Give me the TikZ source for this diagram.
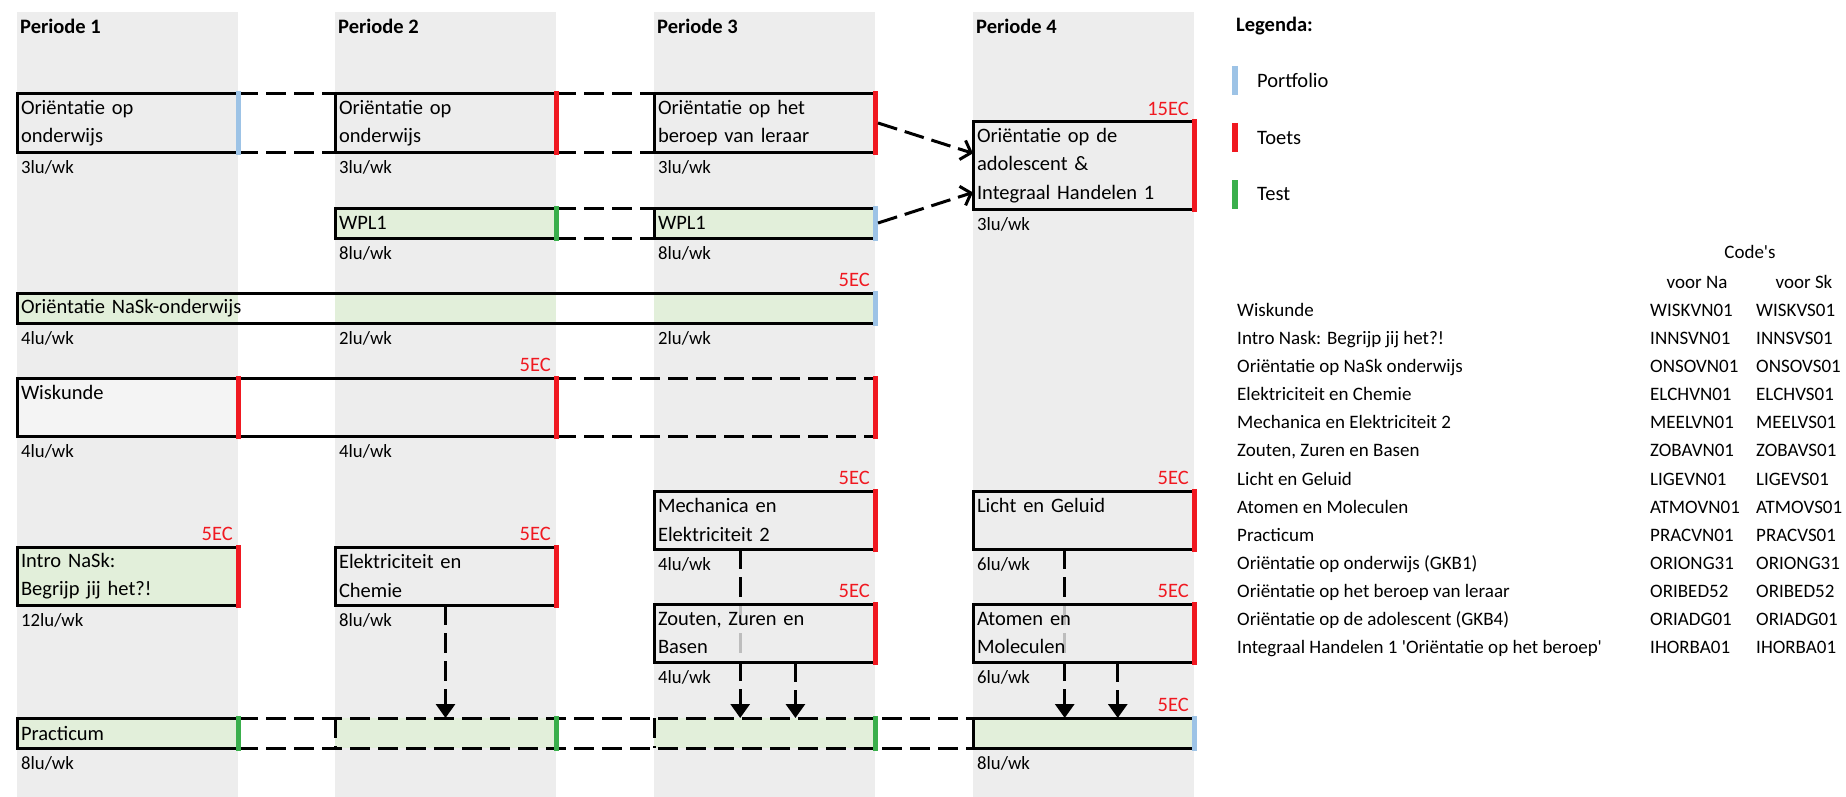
\documentclass[tikz,border=0pt]{standalone}
\usepackage{fontspec}
\setmainfont{Carlito}
\usetikzlibrary{calc,arrows.meta}
\definecolor{bandgrey}{HTML}{EDEDED}
\definecolor{cellgreen}{HTML}{E2EFDA}
\definecolor{cellgrey}{HTML}{F4F4F4}
\definecolor{toetsred}{HTML}{F01820}
\definecolor{portblue}{HTML}{9DC3E6}
\definecolor{testgreen}{HTML}{3AAF4C}
\newcommand{\sheetfont}{\fontsize{20.5}{28.5}\selectfont}
\newcommand{\lufont}{\fontsize{18.7}{22}\selectfont}
\newcommand{\tabfont}{\fontsize{19}{23}\selectfont}
\begin{document}
\begin{tikzpicture}[x=1pt,y=-1pt,font=\sheetfont,
  box/.style={draw,line width=3pt,outer sep=0pt,inner sep=4pt,anchor=north west,
    minimum width=221pt,text width=213pt,align=left,minimum height=58pt},
  low/.style={minimum height=30pt},
  cell/.style={outer sep=0pt,inner sep=0pt,anchor=north west,minimum width=221pt,minimum height=30pt},
  head/.style={anchor=west,inner sep=0pt,font=\sheetfont\bfseries},
  lu/.style={anchor=west,inner sep=0pt,font=\lufont},
  ec/.style={anchor=east,inner sep=0pt,text=toetsred},
  tab/.style={anchor=base west,inner sep=0pt,font=\tabfont},
  toets/.style={draw=toetsred,line width=5pt,line cap=rect},
  portfolio/.style={draw=portblue,line width=5pt,line cap=rect},
  test/.style={draw=testgreen,line width=5pt,line cap=rect},
  link/.style={line width=3pt,dash pattern=on 20pt off 8pt},
  flow/.style={link,-{Triangle[length=14pt,width=19pt]}},
  toward/.style={link,-{Straight Barb[length=9pt,width=20pt]}}]
\useasboundingbox (0,0) rectangle (1846,797);
\fill[bandgrey] (17,12) rectangle +(221,785);
\fill[bandgrey] (335,12) rectangle +(221,785);
\fill[bandgrey] (654,12) rectangle +(221,785);
\fill[bandgrey] (973,12) rectangle +(221,785);
\node[head] (per1) at (20,26) {Periode 1};
\node[head] (per2) at (338,26) {Periode 2};
\node[head] (per3) at (657,26) {Periode 3};
\node[head] (per4) at (976,26) {Periode 4};

\node[box] (ori1) at (17,94) {Oriëntatie op\\onderwijs};
\node[box] (ori2) at (335,94) {Oriëntatie op\\onderwijs};
\node[box] (ori3) at (654,94) {Oriëntatie op het\\beroep van leraar};
\node[box,minimum height=87pt] (adol) at (973,122) {Oriëntatie op de\\adolescent \&\\Integraal Handelen 1};
\draw[link] (ori1.north east) -- (ori2.north west) (ori1.south east) -- (ori2.south west);
\draw[link] (ori2.north east) -- (ori3.north west) (ori2.south east) -- (ori3.south west);
\draw[portfolio] (ori1.north east) -- (ori1.south east);
\draw[toets] (ori2.north east) -- (ori2.south east);
\draw[toets] (ori3.north east) -- (ori3.south east);
\draw[toets] (adol.north east) -- (adol.south east);
\node[lu] (lu1) at ([shift={(4,15)}]ori1.south west) {3lu/wk};
\node[lu] (lu2) at ([shift={(4,15)}]ori2.south west) {3lu/wk};
\node[lu] (lu3) at ([shift={(4,15)}]ori3.south west) {3lu/wk};
\node[lu] (lu4) at ([shift={(4,15)}]adol.south west) {3lu/wk};
\node[ec] (ec1) at ([shift={(-5,-13)}]adol.north east) {15EC};

\node[box,low,fill=cellgreen] (wpl2) at (335,208) {WPL1};
\node[box,low,fill=cellgreen] (wpl3) at (654,208) {WPL1};
\draw[link] (wpl2.north east) -- (wpl3.north west) (wpl2.south east) -- (wpl3.south west);
\draw[test] (wpl2.north east) -- (wpl2.south east);
\draw[portfolio] (wpl3.north east) -- (wpl3.south east);
\node[lu] (lu5) at ([shift={(4,15)}]wpl2.south west) {8lu/wk};
\node[lu] (lu6) at ([shift={(4,15)}]wpl3.south west) {8lu/wk};
\draw[toward] ([xshift=3pt]ori3.east) -- ($(adol.north west)!0.36!(adol.south west)$);
\draw[toward] ([xshift=3pt]wpl3.east) -- ($(adol.north west)!0.81!(adol.south west)$);

\node[cell,fill=cellgreen] (nask1) at (17,293) {};
\node[cell,fill=cellgreen] (nask2) at (335,293) {};
\node[cell,fill=cellgreen] (nask3) at (654,293) {};
\node[box,low,minimum width=858pt,text width=850pt] (nask) at (17,293) {Oriëntatie NaSk-onderwijs};
\draw[portfolio] (nask.north east) -- (nask.south east);
\node[lu] (lu7) at ([shift={(4,15)}]nask1.south west) {4lu/wk};
\node[lu] (lu8) at ([shift={(4,15)}]nask2.south west) {2lu/wk};
\node[lu] (lu9) at ([shift={(4,15)}]nask3.south west) {2lu/wk};
\node[ec] (ec2) at ([shift={(-5,-13)}]nask.north east) {5EC};

\node[cell,minimum height=58pt,fill=cellgrey] (wisk1) at (17,378) {};
\node[cell,minimum height=58pt] (wisk2) at (335,378) {};
\node[cell,minimum height=58pt] (wisk3) at (654,378) {};
\node[box,minimum width=539pt,text width=531pt] (wisk) at (17,378) {Wiskunde\\\mbox{}};
\draw[link] (wisk.north east) -- (wisk3.north east) (wisk.south east) -- (wisk3.south east);
\draw[toets] (wisk1.north east) -- (wisk1.south east);
\draw[toets] (wisk.north east) -- (wisk.south east);
\draw[toets] (wisk3.north east) -- (wisk3.south east);
\node[lu] (lu10) at ([shift={(4,15)}]wisk1.south west) {4lu/wk};
\node[lu] (lu11) at ([shift={(4,15)}]wisk2.south west) {4lu/wk};
\node[ec] (ec3) at ([shift={(-5,-13)}]wisk.north east) {5EC};

\node[box] (mech) at (654,491) {Mechanica en\\Elektriciteit 2};
\node[box] (licht) at (973,491) {Licht en Geluid\\\mbox{}};
\node[box,fill=cellgreen] (intro) at (17,547) {Intro NaSk:\\Begrijp jij het?!};
\node[box] (elek) at (335,547) {Elektriciteit en\\Chemie};
\draw[toets] (mech.north east) -- (mech.south east);
\draw[toets] (licht.north east) -- (licht.south east);
\draw[toets] (intro.north east) -- (intro.south east);
\draw[toets] (elek.north east) -- (elek.south east);
\node[lu] (lu12) at ([shift={(4,15)}]mech.south west) {4lu/wk};
\node[lu] (lu13) at ([shift={(4,15)}]licht.south west) {6lu/wk};
\node[lu] (lu14) at ([shift={(4,15)}]intro.south west) {12lu/wk};
\node[lu] (lu15) at ([shift={(4,15)}]elek.south west) {8lu/wk};
\node[ec] (ec4) at ([shift={(-5,-13)}]mech.north east) {5EC};
\node[ec] (ec5) at ([shift={(-5,-13)}]licht.north east) {5EC};
\node[ec] (ec6) at ([shift={(-5,-13)}]intro.north east) {5EC};
\node[ec] (ec7) at ([shift={(-5,-13)}]elek.north east) {5EC};

\node[box,low,fill=cellgreen] (prac1) at (17,718) {Practicum};
\node[cell,fill=cellgreen] (prac2) at (335,718) {};
\node[cell,fill=cellgreen] (prac3) at (654,718) {};
\node[box,low,fill=cellgreen] (prac4) at (973,718) {};
\draw[link] (prac1.north east) -- (prac4.north west) (prac1.south east) -- (prac4.south west);
\draw[link] (prac2.north west) -- (prac2.south west) (prac3.north west) -- (prac3.south west);
\draw[test] (prac1.north east) -- (prac1.south east);
\draw[test] (prac2.north east) -- (prac2.south east);
\draw[test] (prac3.north east) -- (prac3.south east);
\draw[portfolio] (prac4.north east) -- (prac4.south east);
\node[lu] (lu16) at ([shift={(4,15)}]prac1.south west) {8lu/wk};
\node[lu] (lu17) at ([shift={(4,15)}]prac4.south west) {8lu/wk};
\node[ec] (ec8) at ([shift={(-5,-13)}]prac4.north east) {5EC};

\coordinate (m1) at ($(mech.south west)!0.39!(mech.south east)$);
\coordinate (l1) at ($(licht.south west)!0.415!(licht.south east)$);
\draw[flow] (elek.south) -- (prac2.north);
\draw[flow] (m1) -- (m1 |- prac3.north);
\draw[flow] (l1) -- (l1 |- prac4.north);

\node[box,fill=bandgrey,fill opacity=0.8,text opacity=1] (zout) at (654,604) {Zouten, Zuren en\\Basen};
\node[box,fill=bandgrey,fill opacity=0.8,text opacity=1] (atom) at (973,604) {Atomen en\\Moleculen};
\draw[toets] (zout.north east) -- (zout.south east);
\draw[toets] (atom.north east) -- (atom.south east);
\node[lu] (lu18) at ([shift={(4,15)}]zout.south west) {4lu/wk};
\node[lu] (lu19) at ([shift={(4,15)}]atom.south west) {6lu/wk};
\node[ec] (ec9) at ([shift={(-5,-13)}]zout.north east) {5EC};
\node[ec] (ec10) at ([shift={(-5,-13)}]atom.north east) {5EC};
\coordinate (z1) at ($(zout.south west)!0.64!(zout.south east)$);
\coordinate (a1) at ($(atom.south west)!0.655!(atom.south east)$);
\draw[flow] (z1) -- (z1 |- prac3.north);
\draw[flow] (a1) -- (a1 |- prac4.north);

\node[head] (leg) at (1236,26) {Legenda:};
\draw[portfolio,line width=6pt,line cap=butt] (1235,66) -- (1235,95);
\draw[toets,line width=6pt,line cap=butt] (1235,123) -- (1235,152);
\draw[test,line width=6pt,line cap=butt] (1235,180) -- (1235,209);
\node[anchor=west,inner sep=0pt] (lport) at (1257,80) {Portfolio};
\node[anchor=west,inner sep=0pt] (ltoets) at (1257,138) {Toets};
\node[anchor=west,inner sep=0pt] (ltest) at (1257,194) {Test};

\node[font=\tabfont,anchor=base,inner sep=0pt] (codes) at (1750,258) {Code\textquotesingle s};
\node[font=\tabfont,anchor=base,inner sep=0pt] (vna) at (1697,288) {voor Na};
\node[font=\tabfont,anchor=base,inner sep=0pt] (vsk) at (1804,288) {voor Sk};
\node[tab] (t1) at (1237,316) {Wiskunde};
\node[tab] (na1) at (1650,316) {WISKVN01};
\node[tab] (sk1) at (1756,316) {WISKVS01};
\node[tab] (t2) at (1237,344) {Intro Nask: Begrijp jij het?!};
\node[tab] (na2) at (1650,344) {INNSVN01};
\node[tab] (sk2) at (1756,344) {INNSVS01};
\node[tab] (t3) at (1237,372) {Oriëntatie op NaSk onderwijs};
\node[tab] (na3) at (1650,372) {ONSOVN01};
\node[tab] (sk3) at (1756,372) {ONSOVS01};
\node[tab] (t4) at (1237,400) {Elektriciteit en Chemie};
\node[tab] (na4) at (1650,400) {ELCHVN01};
\node[tab] (sk4) at (1756,400) {ELCHVS01};
\node[tab] (t5) at (1237,428) {Mechanica en Elektriciteit 2};
\node[tab] (na5) at (1650,428) {MEELVN01};
\node[tab] (sk5) at (1756,428) {MEELVS01};
\node[tab] (t6) at (1237,456) {Zouten, Zuren en Basen};
\node[tab] (na6) at (1650,456) {ZOBAVN01};
\node[tab] (sk6) at (1756,456) {ZOBAVS01};
\node[tab] (t7) at (1237,485) {Licht en Geluid};
\node[tab] (na7) at (1650,485) {LIGEVN01};
\node[tab] (sk7) at (1756,485) {LIGEVS01};
\node[tab] (t8) at (1237,513) {Atomen en Moleculen};
\node[tab] (na8) at (1650,513) {ATMOVN01};
\node[tab] (sk8) at (1756,513) {ATMOVS01};
\node[tab] (t9) at (1237,541) {Practicum};
\node[tab] (na9) at (1650,541) {PRACVN01};
\node[tab] (sk9) at (1756,541) {PRACVS01};
\node[tab] (t10) at (1237,569) {Oriëntatie op onderwijs (GKB1)};
\node[tab] (na10) at (1650,569) {ORIONG31};
\node[tab] (sk10) at (1756,569) {ORIONG31};
\node[tab] (t11) at (1237,597) {Oriëntatie op het beroep van leraar};
\node[tab] (na11) at (1650,597) {ORIBED52};
\node[tab] (sk11) at (1756,597) {ORIBED52};
\node[tab] (t12) at (1237,625) {Oriëntatie op de adolescent (GKB4)};
\node[tab] (na12) at (1650,625) {ORIADG01};
\node[tab] (sk12) at (1756,625) {ORIADG01};
\node[tab] (t13) at (1237,653) {Integraal Handelen 1 \textquotesingle Oriëntatie op het beroep\textquotesingle};
\node[tab] (na13) at (1650,653) {IHORBA01};
\node[tab] (sk13) at (1756,653) {IHORBA01};
\end{tikzpicture}
\end{document}
